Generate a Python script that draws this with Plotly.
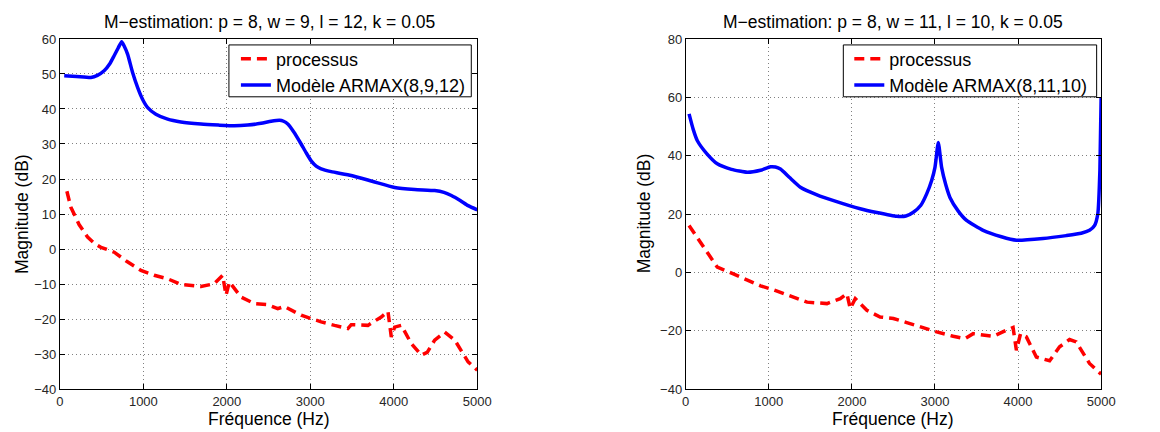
import plotly.graph_objects as go

# ---------------- data ----------------
# Left panel: M-estimation p=8, w=9, l=12
left_model_f = [52, 200, 372, 450, 530, 600, 650, 700, 740, 770, 812, 870, 932, 990, 1052, 1150, 1291, 1450,
                1690, 1900, 2090, 2250, 2410, 2530, 2630, 2680, 2730, 2800, 2890, 2950, 3010, 3070, 3130,
                3250, 3490, 3750, 4010, 4250, 4490, 4600, 4690, 4800, 4890, 5000]
left_model_db = [49.5, 49.3, 49.0, 49.6, 50.9, 53.0, 55.2, 57.5, 59.2, 58.0, 55.6, 50.5, 46.1, 42.8, 40.4, 38.5,
                 37.1, 36.3, 35.7, 35.4, 35.2, 35.4, 35.9, 36.5, 36.8, 36.5, 35.7, 33.5, 30.0, 27.5, 25.2, 23.7,
                 22.9, 22.1, 21.0, 19.3, 17.6, 17.0, 16.7, 16.2, 15.3, 13.8, 12.4, 11.2]

left_proc_f = [84, 132, 230, 332, 420, 492, 651, 800, 971, 1130, 1291, 1451, 1690, 1850, 1950, 1990, 2030,
               2170, 2330, 2490, 2610, 2690, 2890, 3130, 3290, 3450, 3490, 3690, 3850, 3930, 3970, 4010,
               4090, 4210, 4330, 4400, 4490, 4610, 4730, 4890, 5000]
left_proc_db = [16.5, 11.9, 7.0, 3.4, 1.5, 0.5, -0.9, -3.5, -6.1, -7.5, -8.5, -10.1, -10.7, -9.9, -7.5, -13.2,
                -9.4, -13.7, -15.6, -15.9, -17.0, -16.4, -18.9, -20.8, -21.8, -22.7, -21.6, -21.8, -19.4,
                -17.8, -25.1, -22.3, -21.8, -27.0, -30.3, -29.5, -26.0, -23.7, -26.0, -32.2, -34.6]

# Right panel: M-estimation p=8, w=11, l=10
right_model_f = [40, 90, 140, 250, 380, 550, 740, 900, 1020, 1080, 1140, 1250, 1380, 1580, 1780, 2100, 2300,
                 2540, 2650, 2740, 2830, 2900, 2960, 3000, 3040, 3080, 3130, 3180, 3280, 3380, 3580, 3800,
                 3980, 4300, 4580, 4760, 4860, 4920, 4960, 4985, 5000]
right_model_db = [54.3, 49.0, 45.1, 40.8, 37.2, 35.3, 34.3, 35.0, 36.2, 36.1, 35.4, 32.5, 29.2, 26.6, 24.6,
                  21.8, 20.5, 19.2, 19.3, 20.6, 23.0, 26.9, 31.5, 36.0, 44.5, 36.0, 30.0, 25.7, 21.0, 17.8,
                  14.4, 12.2, 11.0, 11.6, 12.6, 13.4, 14.4, 16.0, 20.1, 35.0, 60.0]

right_proc_f = [40, 150, 260, 380, 580, 750, 900, 1060, 1300, 1460, 1700, 1860, 1940, 1980, 2040, 2180, 2340,
                2500, 2660, 2820, 3020, 3220, 3360, 3460, 3700, 3860, 3940, 3980, 4030, 4100, 4220, 4380,
                4500, 4620, 4700, 4860, 5000]
right_proc_db = [16.1, 11.5, 6.4, 1.8, -0.6, -2.8, -4.6, -6.0, -8.4, -10.2, -10.7, -9.0, -7.3, -12.4, -9.0,
                 -13.0, -15.3, -15.8, -17.2, -18.7, -20.4, -21.9, -22.7, -21.0, -21.9, -19.8, -18.9, -26.7,
                 -21.0, -22.1, -29.0, -30.3, -25.5, -23.0, -23.8, -31.2, -34.9]

titles = ["M\u2212estimation: p = 8, w = 9, l = 12, k = 0.05",
          "M\u2212estimation: p = 8, w = 11, l = 10, k = 0.05"]
model_names = ["Modèle ARMAX(8,9,12)", "Modèle ARMAX(8,11,10)"]
proc_name = "processus"
x_label = "Fréquence (Hz)"
y_label = "Magnitude (dB)"
x_ticks = [0, 1000, 2000, 3000, 4000, 5000]
left_y_ticks = [-40, -30, -20, -10, 0, 10, 20, 30, 40, 50, 60]
right_y_ticks = [-40, -20, 0, 20, 40, 60, 80]

# ---------------- layout helpers ----------------
W, H = 1160, 432
# the page renders the figure slightly inset; map target screen pixels to paper fractions
OX, RW = 9.5, 1145.0
OY, RH = 14.0, 418.0


def fx(px):
    return (px - OX) / RW


def fy(py):
    return 1 - (py - OY) / RH


FONT = "Liberation Sans, Arial, Helvetica, sans-serif"
RED = "#ff0000"
BLUE = "#0000ff"

fig = go.Figure()

fig.add_trace(go.Scatter(x=left_proc_f, y=left_proc_db, mode="lines", name=proc_name,
                         line=dict(color=RED, width=3.5, dash="10px,6px"),
                         xaxis="x", yaxis="y", legend="legend"))
fig.add_trace(go.Scatter(x=left_model_f, y=left_model_db, mode="lines", name=model_names[0],
                         line=dict(color=BLUE, width=3.5, shape="spline", smoothing=0.5),
                         xaxis="x", yaxis="y", legend="legend"))
fig.add_trace(go.Scatter(x=right_proc_f, y=right_proc_db, mode="lines", name=proc_name,
                         line=dict(color=RED, width=3.5, dash="10px,6px"),
                         xaxis="x2", yaxis="y2", legend="legend2"))
fig.add_trace(go.Scatter(x=right_model_f, y=right_model_db, mode="lines", name=model_names[1],
                         line=dict(color=BLUE, width=3.5, shape="spline", smoothing=0.5),
                         xaxis="x2", yaxis="y2", legend="legend2"))

ydom = [fy(389), fy(38)]
ax_common = dict(showline=True, linecolor="black", linewidth=1, mirror="ticks",
                 ticks="inside", ticklen=5, tickcolor="black",
                 showgrid=True, gridcolor="#808080", gridwidth=1, griddash="1px,3px",
                 zeroline=False, tickfont=dict(family=FONT, size=13, color="#262626"))

legend_common = dict(yanchor="top", xanchor="left", bgcolor="rgba(0,0,0,0)", borderwidth=0,
                     font=dict(family=FONT, size=18, color="black"), tracegroupgap=0)

fig.update_layout(
    width=W, height=H, autosize=False,
    margin=dict(l=0, r=0, t=0, b=0),
    paper_bgcolor="white", plot_bgcolor="white",
    font=dict(family=FONT, color="black"),
    xaxis=dict(domain=[fx(57.5), fx(476)], range=[0, 5000], tickvals=x_ticks, anchor="y", **ax_common),
    yaxis=dict(domain=ydom, range=[-40, 60], tickvals=left_y_ticks, anchor="x", **ax_common),
    xaxis2=dict(domain=[fx(685), fx(1101.5)], range=[0, 5000], tickvals=x_ticks, anchor="y2", **ax_common),
    yaxis2=dict(domain=ydom, range=[-40, 80], tickvals=right_y_ticks, anchor="x2", **ax_common),
    legend=dict(x=fx(234), y=fy(39.5), **legend_common),
    legend2=dict(x=fx(849), y=fy(39.5), **legend_common),
    showlegend=True,
)

# legend frames (white box with black border, drawn above the grid)
legend_boxes = [(227, 470, 44, 96), (843, 1097, 44, 96)]
shapes = []
for (x0, x1, y0, y1) in legend_boxes:
    shapes.append(dict(type="rect", xref="paper", yref="paper", x0=fx(x0), x1=fx(x1), y0=fy(y1), y1=fy(y0),
                       line=dict(color="black", width=1), fillcolor="white", layer="above"))
fig.update_layout(shapes=shapes)

centers = [(59 + 476) / 2, (685 + 1101.5) / 2]
ylabel_x = [19, 643]
annotations = []
for i in range(2):
    annotations.append(dict(text=titles[i], x=fx(centers[i]), y=fy(21), xref="paper", yref="paper",
                            xanchor="center", yanchor="middle", showarrow=False,
                            font=dict(family=FONT, size=17.5, color="black")))
    annotations.append(dict(text=x_label, x=fx(centers[i]), y=fy(419), xref="paper", yref="paper",
                            xanchor="center", yanchor="middle", showarrow=False,
                            font=dict(family=FONT, size=17.5, color="black")))
    annotations.append(dict(text=y_label, x=fx(ylabel_x[i]), y=fy(213), xref="paper", yref="paper",
                            xanchor="center", yanchor="middle", showarrow=False, textangle=-90,
                            font=dict(family=FONT, size=17.5, color="black")))
fig.update_layout(annotations=annotations)

fig.write_html("out.html")
